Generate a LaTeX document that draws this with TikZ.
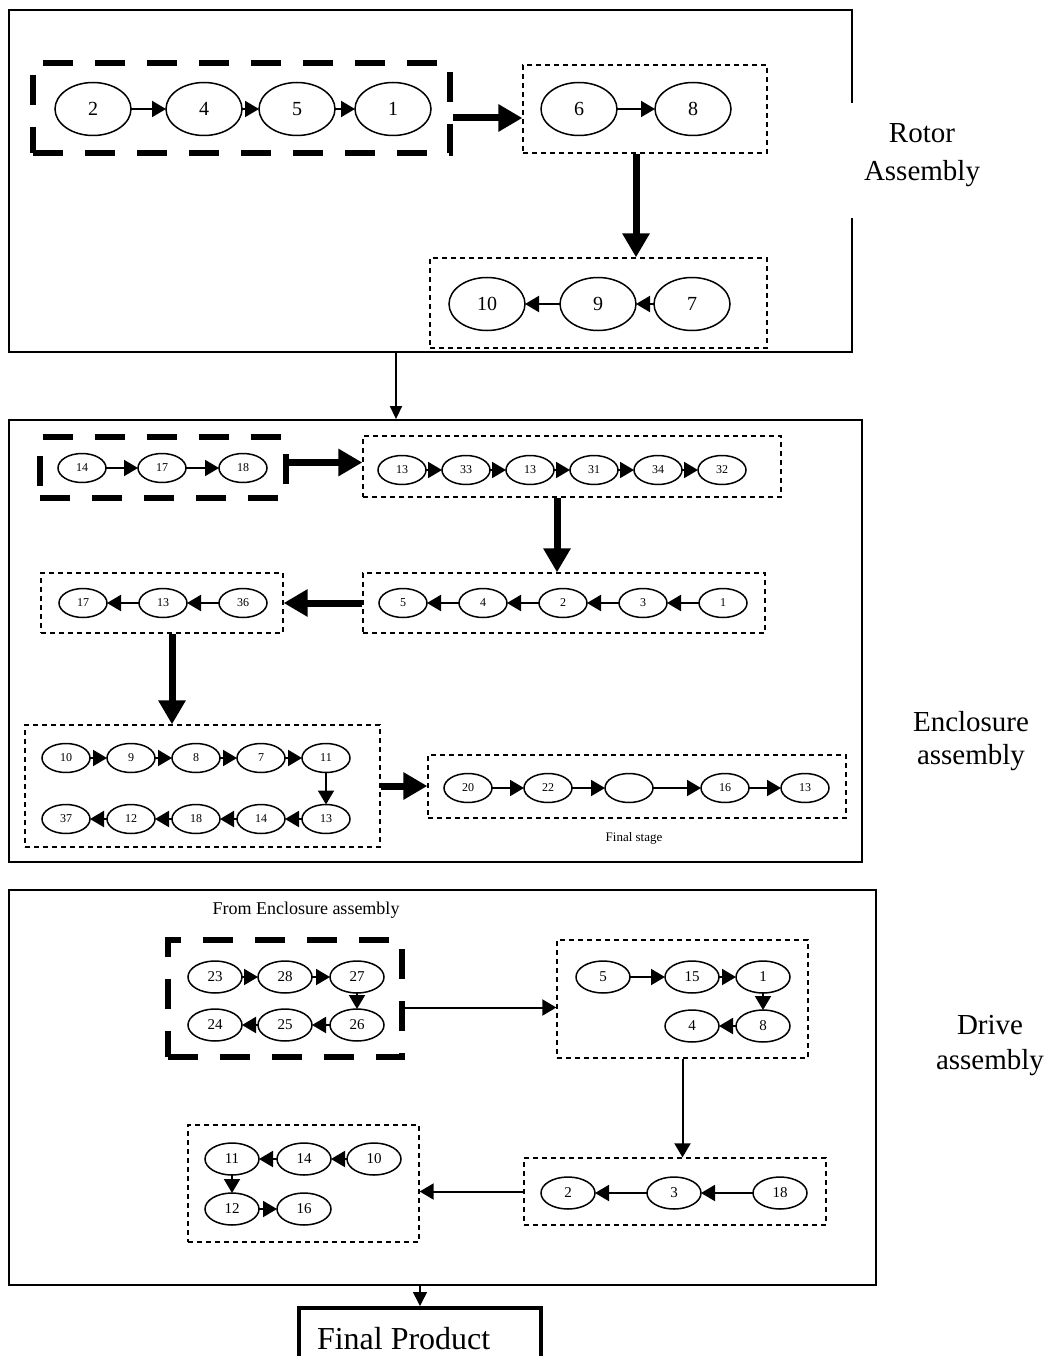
\documentclass[tikz,border=0pt]{standalone}
\usepackage{fontspec}
\setmainfont{Liberation Serif}
\usetikzlibrary{positioning}
\usetikzlibrary{fit}
\usetikzlibrary{shapes.geometric}
\usetikzlibrary{arrows.meta}

\tikzset{
  part/.style={ellipse,draw,line width=1.5pt,inner sep=0pt,outer sep=0pt},
  big part/.style={part,minimum width=76pt,minimum height=53pt,font=\fontsize{20}{24}\selectfont},
  small part/.style={part,minimum width=48pt,minimum height=29pt,font=\fontsize{12}{14}\selectfont},
  mid part/.style={part,minimum width=54pt,minimum height=32pt,font=\fontsize{15}{18}\selectfont},
  group/.style={draw,line width=1.3pt,dash pattern=on 5pt off 4pt,inner sep=0pt},
  main group/.style={draw,line width=6pt,dash pattern=on 30pt off 22pt,inner sep=0pt},
  frame/.style={draw,line width=1.8pt,inner sep=0pt},
  link/.style={-{Triangle[length=14pt,width=16pt]},line width=2pt},
  flow/.style={-{Triangle[length=24pt,width=26pt]},line width=7pt},
  stage label/.style={align=center,font=\fontsize{29}{36}\selectfont},
}

\begin{document}
\begin{tikzpicture}[x=1pt,y=-1pt]
  \useasboundingbox (0,0) rectangle (1053,1356);

  % Rotor assembly
  \draw[line width=1.8pt] (852,103) -- (852,10) -- (9,10) -- (9,352) -- (852,352) -- (852,218);
  \coordinate (rotor out) at (396,352);
  \node[stage label,font=\fontsize{29}{38}\selectfont] (rotor label) at (922,155) {Rotor\\Assembly};

  \node[big part] (r2) at (93,109) {2};
  \node[big part,right=35pt of r2] (r4) {4};
  \node[big part,right=17pt of r4] (r5) {5};
  \node[big part,right=20pt of r5] (r1) {1};
  \node[main group,fit={(33,63) (450,153)}] (rotor a) {};
  \draw[link] (r2) -- (r4);
  \draw[link] (r4) -- (r5);
  \draw[link] (r5) -- (r1);

  \node[big part] (r6) at (579,109) {6};
  \node[big part,right=38pt of r6] (r8) {8};
  \node[group,fit={(523,65) (767,153)}] (rotor b) {};
  \draw[link] (r6) -- (r8);

  \node[big part] (r7) at (692,304) {7};
  \node[big part,left=18pt of r7] (r9) {9};
  \node[big part,left=35pt of r9] (r10) {10};
  \node[group,fit={(430,258) (767,348)}] (rotor c) {};
  \draw[link] (r7) -- (r9);
  \draw[link] (r9) -- (r10);

  \draw[flow] ([yshift=-10pt]rotor a.east) -- ([yshift=-10pt]rotor a.east -| rotor b.west);
  \draw[flow] ([xshift=-9pt]rotor b.south) -- ([xshift=-9pt]rotor b.south |- rotor c.north);

  % Enclosure assembly
  \node[frame,fit={(9,420) (862,862)}] (encl box) {};
  \draw[-{Triangle[length=13pt,width=12pt]},line width=1.5pt] (rotor out) -- (rotor out |- encl box.north);
  \node[stage label,font=\fontsize{29}{33}\selectfont] (encl label) at (971,741) {Enclosure\\assembly};

  \node[small part] (ea14) at (82,468) {14};
  \node[small part,right=32pt of ea14] (ea17) {17};
  \node[small part,right=33pt of ea17] (ea18) {18};
  \node[main group,fit={(40,437) (286,498)}] (encl a) {};
  \draw[link] (ea14) -- (ea17);
  \draw[link] (ea17) -- (ea18);

  \node[small part] (eb13) at (402,470) {13};
  \node[small part,right=16pt of eb13] (eb33) {33};
  \node[small part,right=16pt of eb33] (eb13b) {13};
  \node[small part,right=16pt of eb13b] (eb31) {31};
  \node[small part,right=16pt of eb31] (eb34) {34};
  \node[small part,right=16pt of eb34] (eb32) {32};
  \node[group,fit={(363,436) (781,497)}] (encl b) {};
  \draw[link] (eb13) -- (eb33);
  \draw[link] (eb33) -- (eb13b);
  \draw[link] (eb13b) -- (eb31);
  \draw[link] (eb31) -- (eb34);
  \draw[link] (eb34) -- (eb32);

  \node[small part] (ec1) at (723,603) {1};
  \node[small part,left=32pt of ec1] (ec3) {3};
  \node[small part,left=32pt of ec3] (ec2) {2};
  \node[small part,left=32pt of ec2] (ec4) {4};
  \node[small part,left=32pt of ec4] (ec5) {5};
  \node[group,fit={(363,573) (765,633)}] (encl c) {};
  \draw[link] (ec1) -- (ec3);
  \draw[link] (ec3) -- (ec2);
  \draw[link] (ec2) -- (ec4);
  \draw[link] (ec4) -- (ec5);

  \node[small part] (ed36) at (243,603) {36};
  \node[small part,left=32pt of ed36] (ed13) {13};
  \node[small part,left=32pt of ed13] (ed17) {17};
  \node[group,fit={(41,573) (283,633)}] (encl d) {};
  \draw[link] (ed36) -- (ed13);
  \draw[link] (ed13) -- (ed17);

  \node[small part] (ee10) at (66,758) {10};
  \node[small part,right=17pt of ee10] (ee9) {9};
  \node[small part,right=17pt of ee9] (ee8) {8};
  \node[small part,right=17pt of ee8] (ee7) {7};
  \node[small part,right=17pt of ee7] (ee11) {11};
  \node[small part,below=32pt of ee11] (ee13) {13};
  \node[small part,left=17pt of ee13] (ee14) {14};
  \node[small part,left=17pt of ee14] (ee18) {18};
  \node[small part,left=17pt of ee18] (ee12) {12};
  \node[small part,left=17pt of ee12] (ee37) {37};
  \node[group,fit={(25,725) (380,847)}] (encl e) {};
  \draw[link] (ee10) -- (ee9);
  \draw[link] (ee9) -- (ee8);
  \draw[link] (ee8) -- (ee7);
  \draw[link] (ee7) -- (ee11);
  \draw[link] (ee11) -- (ee13);
  \draw[link] (ee13) -- (ee14);
  \draw[link] (ee14) -- (ee18);
  \draw[link] (ee18) -- (ee12);
  \draw[link] (ee12) -- (ee37);

  \node[small part] (ef20) at (468,788) {20};
  \node[small part,right=32pt of ef20] (ef22) {22};
  \node[small part,right=33pt of ef22] (efblank) {};
  \node[small part,right=48pt of efblank] (ef16) {16};
  \node[small part,right=32pt of ef16] (ef13) {13};
  \node[group,fit={(428,755) (846,818)}] (encl f) {};
  \node[font=\fontsize{13}{15}\selectfont] (final stage) at (634,838) {Final stage};
  \draw[link] (ef20) -- (ef22);
  \draw[link] (ef22) -- (efblank);
  \draw[link] (efblank) -- (ef16);
  \draw[link] (ef16) -- (ef13);

  \draw[flow] ([yshift=5pt]encl a.east) -- ([yshift=5pt]encl a.east -| encl b.west);
  \draw[flow] ([xshift=-15pt]encl b.south) -- ([xshift=-15pt]encl b.south |- encl c.north);
  \draw[flow] (encl c.west) -- (encl c.west -| encl d.east);
  \draw[flow] ([xshift=10pt]encl d.south) -- ([xshift=10pt]encl d.south |- encl e.north);
  \draw[flow] (encl e.east) -- (encl e.east -| encl f.west);

  % Drive assembly
  \node[frame,fit={(9,890) (876,1285)}] (drive box) {};
  \node[stage label,font=\fontsize{29}{35}\selectfont] (drive label) at (990,1046) {Drive\\assembly};
  \node[font=\fontsize{18}{21}\selectfont] (from encl) at (306,910) {From Enclosure assembly};

  \node[mid part] (dg23) at (215,977) {23};
  \node[mid part,right=16pt of dg23] (dg28) {28};
  \node[mid part,right=18pt of dg28] (dg27) {27};
  \node[mid part,below=16pt of dg27] (dg26) {26};
  \node[mid part,left=18pt of dg26] (dg25) {25};
  \node[mid part,left=16pt of dg25] (dg24) {24};
  \node[main group,fit={(168,940) (402,1057)}] (drive g) {};
  \draw[link] (dg23) -- (dg28);
  \draw[link] (dg28) -- (dg27);
  \draw[link] (dg27) -- (dg26);
  \draw[link] (dg26) -- (dg25);
  \draw[link] (dg25) -- (dg24);

  \node[mid part] (dh5) at (603,977) {5};
  \node[mid part,right=35pt of dh5] (dh15) {15};
  \node[mid part,right=17pt of dh15] (dh1) {1};
  \node[mid part,below=17pt of dh1] (dh8) {8};
  \node[mid part,left=17pt of dh8] (dh4) {4};
  \node[group,fit={(557,940) (808,1058)}] (drive h) {};
  \draw[link] (dh5) -- (dh15);
  \draw[link] (dh15) -- (dh1);
  \draw[link] (dh1) -- (dh8);
  \draw[link] (dh8) -- (dh4);

  \node[mid part] (di18) at (780,1193) {18};
  \node[mid part,left=52pt of di18] (di3) {3};
  \node[mid part,left=52pt of di3] (di2) {2};
  \node[group,fit={(524,1158) (826,1225)}] (drive i) {};
  \draw[link] (di18) -- (di3);
  \draw[link] (di3) -- (di2);

  \node[mid part] (dj10) at (374,1159) {10};
  \node[mid part,left=16pt of dj10] (dj14) {14};
  \node[mid part,left=18pt of dj14] (dj11) {11};
  \node[mid part,below=18pt of dj11] (dj12) {12};
  \node[mid part,right=18pt of dj12] (dj16) {16};
  \node[group,fit={(188,1125) (419,1242)}] (drive j) {};
  \draw[link] (dj10) -- (dj14);
  \draw[link] (dj14) -- (dj11);
  \draw[link] (dj11) -- (dj12);
  \draw[link] (dj12) -- (dj16);

  \draw[link] ([yshift=-9pt]drive g.east) -- ([yshift=-9pt]drive g.east -| drive h.west);
  \draw[link] (drive h.south) -- (drive h.south |- drive i.north);
  \draw[link] (drive i.west) -- (drive i.west -| drive j.east);

  % Final product
  \node[draw,line width=4pt,anchor=north west,inner xsep=18pt,text width=206pt,align=left,
        minimum height=62pt,font=\fontsize{32}{38}\selectfont] (final) at (297,1306) {\spaceskip=0pt Final Product};
  \draw[-{Triangle[length=14pt,width=14pt]},line width=1.5pt] (final.north |- drive box.south) -- (final.north);
\end{tikzpicture}
\end{document}
